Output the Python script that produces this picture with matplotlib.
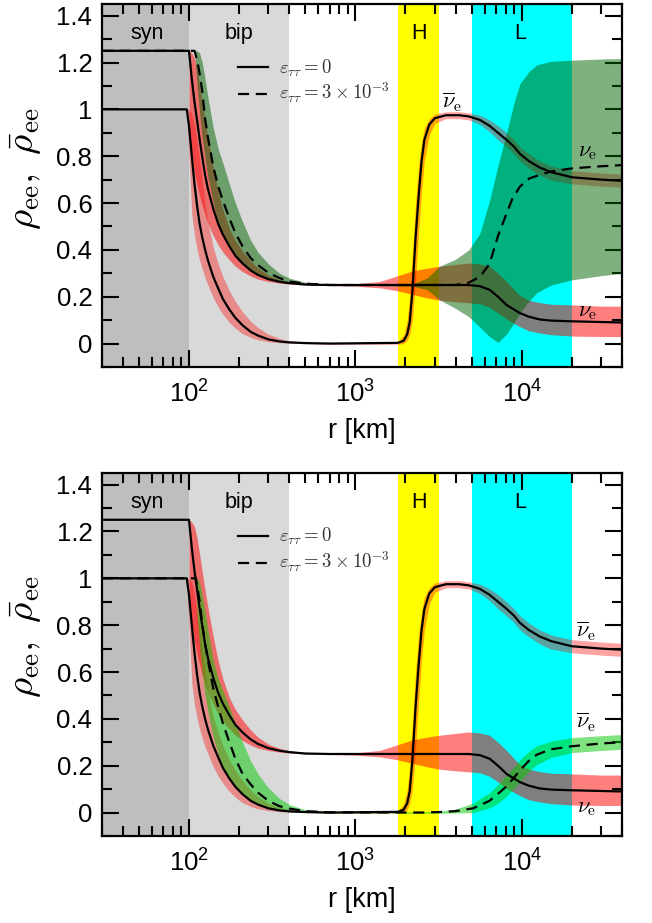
import math
import matplotlib
matplotlib.use('Agg')
import matplotlib.pyplot as plt
from matplotlib.ticker import LogLocator, MultipleLocator, FixedLocator, FuncFormatter, NullFormatter

plt.rcParams['font.family'] = ['Liberation Sans', 'DejaVu Sans']
plt.rcParams['mathtext.fontset'] = 'cm'

# shaded regions along r
region_names = ['syn', 'bip', 'H', 'L']
region_lo = [30, 100, 1800, 5000]
region_hi = [100, 400, 3200, 20000]
region_colors = ['#bebebe', '#d9d9d9', '#ffff00', '#00ffff']
region_label_r = [56, 200, 2400, 9800]

# nu_e, eps = 0 (same in both panels)
r_nue = [30, 100, 104, 108, 112, 116, 120, 125, 130, 140,
         150, 160, 175, 190, 210, 235, 260, 300, 350, 400,
         500, 700, 4800, 5600, 6400, 7200, 8100, 9000, 9750, 11000,
         12800, 15000, 20000, 30000, 40000]
nue_solid = [1.25, 1.25, 1.13, 1.03, 0.95, 0.87, 0.80, 0.72, 0.66, 0.575,
             0.51, 0.465, 0.415, 0.375, 0.342, 0.312, 0.293, 0.275, 0.264, 0.258,
             0.252, 0.25, 0.25, 0.245, 0.23, 0.2, 0.165, 0.145, 0.13, 0.115,
             0.103, 0.098, 0.095, 0.092, 0.09]

r_nue_band = [100, 104, 108, 112, 116, 120, 125, 130, 140,
              150, 160, 175, 190, 210, 235, 260, 300, 350, 400,
              500, 700, 1000, 1400, 1800, 2200, 2700, 3200, 4000, 4800, 5600,
              6400, 7200, 8100, 9000, 9750, 11000, 12800, 15000, 20000,
              30000, 40000]
nue_band_lo = [0.89, 0.805, 0.73, 0.675, 0.63, 0.59, 0.55, 0.513, 0.46,
               0.42, 0.39, 0.357, 0.33, 0.307, 0.288, 0.275, 0.265, 0.258, 0.254,
               0.251, 0.248, 0.245, 0.238, 0.225, 0.21, 0.195, 0.185, 0.178, 0.174, 0.17,
               0.155, 0.13, 0.105, 0.085, 0.072, 0.055, 0.045, 0.038, 0.032,
               0.03, 0.03]
nue_band_hi = [1.25, 1.24, 1.22, 1.17, 1.1, 1.03, 0.95, 0.875, 0.75,
               0.645, 0.57, 0.49, 0.44, 0.395, 0.352, 0.322, 0.292, 0.274, 0.264,
               0.256, 0.251, 0.255, 0.265, 0.29, 0.31, 0.322, 0.33, 0.338, 0.344, 0.34,
               0.33, 0.3, 0.265, 0.23, 0.205, 0.185, 0.175, 0.168, 0.165,
               0.16, 0.16]

# anti nu_e, eps = 0 (same in both panels)
r_nuebar = [30, 97, 100, 104, 108, 112, 116, 120, 125, 130,
            140, 150, 160, 175, 190, 210, 235, 260, 300, 350,
            400, 500, 700, 1800, 1950, 2050, 2120, 2200, 2300, 2400,
            2500, 2600, 2780, 3000, 3500, 4200, 4800, 5600, 6400, 7200,
            8100, 9000, 9750, 11000, 12800, 15000, 20000, 30000, 40000]
nuebar_solid = [1.0, 1.0, 0.93, 0.8, 0.68, 0.585, 0.51, 0.455, 0.4, 0.355,
                0.285, 0.235, 0.19, 0.145, 0.11, 0.078, 0.05, 0.034, 0.018, 0.009,
                0.005, 0.002, 0.0, 0.003, 0.012, 0.04, 0.09, 0.22, 0.45, 0.63,
                0.78, 0.87, 0.935, 0.962, 0.975, 0.975, 0.97, 0.955, 0.93, 0.9,
                0.87, 0.84, 0.81, 0.78, 0.752, 0.732, 0.71, 0.70, 0.695]

r_nuebar_band = [97, 100, 104, 108, 112, 116, 120, 125, 130, 140,
                 150, 160, 175, 190, 210, 235, 260, 300, 350, 400,
                 500, 700, 1800, 1950, 2050, 2120, 2200, 2300, 2400, 2500,
                 2600, 2780, 3000, 3500, 4200, 4800, 5600, 6400, 7200, 8100,
                 9000, 9750, 11000, 12800, 15000, 20000, 30000, 40000]
nuebar_band_lo = [1.0, 0.8, 0.55, 0.46, 0.4, 0.355, 0.32, 0.28, 0.25, 0.195,
                  0.155, 0.125, 0.09, 0.065, 0.042, 0.026, 0.016, 0.008, 0.004, 0.002,
                  0.0, -0.003, -0.003, 0.0, 0.015, 0.04, 0.1, 0.27, 0.48, 0.65,
                  0.78, 0.89, 0.94, 0.96, 0.96, 0.955, 0.935, 0.905, 0.87, 0.84,
                  0.81, 0.78, 0.75, 0.72, 0.698, 0.682, 0.672, 0.667]
nuebar_band_hi = [1.0, 1.0, 0.98, 0.93, 0.86, 0.78, 0.7, 0.6, 0.52, 0.41,
                  0.34, 0.285, 0.225, 0.18, 0.135, 0.095, 0.068, 0.04, 0.022, 0.012,
                  0.005, 0.003, 0.008, 0.035, 0.1, 0.2, 0.38, 0.6, 0.76, 0.86,
                  0.92, 0.96, 0.98, 0.99, 0.99, 0.985, 0.975, 0.955, 0.93, 0.9,
                  0.87, 0.84, 0.81, 0.78, 0.758, 0.738, 0.728, 0.723]

# top panel: nu_e, eps = 3e-3
r_top_dash = [30, 108, 112, 116, 120, 125, 130, 140, 150, 160,
              175, 190, 210, 235, 260, 300, 350, 400, 500, 700,
              4000, 4800, 5600, 6400, 7200, 8000, 8800, 9750, 11100, 12800,
              15000, 20000, 30000, 40000]
top_dash = [1.25, 1.25, 1.21, 1.15, 1.08, 0.96, 0.88, 0.755, 0.67, 0.61,
            0.535, 0.472, 0.415, 0.365, 0.335, 0.302, 0.28, 0.265, 0.256, 0.25,
            0.25, 0.26, 0.285, 0.34, 0.46, 0.545, 0.62, 0.67, 0.705, 0.72,
            0.735, 0.748, 0.757, 0.762]

r_top_green = [108, 112, 116, 120, 125, 130, 140, 150, 160, 175,
               190, 210, 235, 260, 300, 350, 400, 500, 700, 1400,
               2200, 2700, 3200, 4000, 4800, 5600, 6400, 7200, 8100, 9000,
               9750, 11000, 12300, 15000, 20000, 30000, 40000]
top_green_lo = [1.25, 1.1, 0.98, 0.88, 0.79, 0.71, 0.60, 0.51, 0.465, 0.415,
                0.375, 0.342, 0.312, 0.293, 0.275, 0.264, 0.258, 0.252, 0.248, 0.248,
                0.245, 0.23, 0.187, 0.15, 0.115, 0.07, 0.03, 0.005, 0.04, 0.09,
                0.13, 0.18, 0.217, 0.25, 0.272, 0.29, 0.30]
top_green_hi = [1.25, 1.25, 1.24, 1.2, 1.13, 1.05, 0.92, 0.83, 0.77, 0.68,
                0.6, 0.52, 0.44, 0.39, 0.34, 0.30, 0.28, 0.262, 0.252, 0.252,
                0.255, 0.28, 0.33, 0.36, 0.40, 0.47, 0.61, 0.76, 0.9, 1.03,
                1.11, 1.16, 1.19, 1.205, 1.21, 1.215, 1.217]

# bottom panel: anti nu_e, eps = 3e-3
r_bot_dash = [30, 110, 112, 116, 120, 125, 130, 140, 150, 160,
              175, 190, 210, 235, 260, 300, 350, 400, 500, 700,
              2500, 3200, 4000, 5100, 6400, 7200, 8100, 9000, 9750, 11000,
              12300, 15000, 20000, 30000, 40000]
bot_dash = [1.0, 1.0, 0.97, 0.9, 0.81, 0.72, 0.65, 0.53, 0.45, 0.38,
            0.3, 0.23, 0.165, 0.12, 0.085, 0.05, 0.027, 0.017, 0.006, 0.001,
            0.0, 0.002, 0.006, 0.018, 0.05, 0.08, 0.112, 0.15, 0.18, 0.22,
            0.247, 0.27, 0.283, 0.295, 0.30]

r_bot_green = [110, 112, 116, 120, 125, 130, 140, 150, 160, 175,
               190, 210, 235, 260, 300, 350, 400, 500, 700, 2500,
               3200, 4000, 5100, 6400, 7200, 8100, 9000, 9750, 11000, 12300,
               15000, 20000, 30000, 40000]
bot_green_lo = [1.0, 0.85, 0.7, 0.6, 0.5, 0.43, 0.32, 0.25, 0.195, 0.145,
                0.11, 0.078, 0.05, 0.034, 0.018, 0.009, 0.005, 0.002, -0.003, -0.003,
                -0.003, -0.002, 0.0, 0.02, 0.04, 0.07, 0.105, 0.134, 0.175, 0.205,
                0.235, 0.256, 0.265, 0.27]
bot_green_hi = [1.0, 1.0, 0.98, 0.93, 0.86, 0.78, 0.65, 0.57, 0.52, 0.45,
                0.38, 0.3, 0.22, 0.165, 0.105, 0.06, 0.035, 0.012, 0.003, 0.003,
                0.006, 0.015, 0.04, 0.085, 0.12, 0.16, 0.195, 0.226, 0.26, 0.285,
                0.305, 0.32, 0.328, 0.333]

# curve labels (r, value, text)
top_labels = [(3840, 1.03, r'$\overline{\nu}_{\rm e}$'),
              (25000, 0.818, r'$\nu_{\rm e}$'),
              (25000, 0.137, r'$\nu_{\rm e}$')]
bot_labels = [(24300, 0.774, r'$\overline{\nu}_{\rm e}$'),
              (24500, 0.383, r'$\overline{\nu}_{\rm e}$'),
              (24500, 0.023, r'$\nu_{\rm e}$')]

yticks = [0, 0.2, 0.4, 0.6, 0.8, 1.0, 1.2, 1.4]
ytick_labels = ['0', '0.2', '0.4', '0.6', '0.8', '1', '1.2', '1.4']


def decade_label(v, pos):
    return r'$\mathregular{10^{%d}}$' % round(math.log10(v))


def draw_panel(ax, r_dash, dash, r_green, green_lo, green_hi, green_color, labels):
    for lo, hi, c, name, xr in zip(region_lo, region_hi, region_colors,
                                   region_names, region_label_r):
        ax.axvspan(lo, hi, color=c, lw=0, zorder=0)
        ax.text(xr, 1.323, name, ha='center', va='center', fontsize=15.5, zorder=6)

    # uncertainty bands
    ax.fill_between(r_nuebar_band, nuebar_band_lo, nuebar_band_hi,
                    color='red', alpha=0.36, lw=0, zorder=1)
    ax.fill_between(r_nue_band, nue_band_lo, nue_band_hi,
                    color='red', alpha=0.5, lw=0, zorder=1)
    ax.fill_between(r_green, green_lo, green_hi,
                    color=green_color, alpha=0.5, lw=0, zorder=2)

    # mean curves
    ax.plot(r_nue, nue_solid, color='k', lw=1.6, zorder=4,
            label=r'$\varepsilon_{\tau\tau}=0$')
    ax.plot(r_nuebar, nuebar_solid, color='k', lw=1.6, zorder=4)
    ax.plot(r_dash, dash, color='k', lw=1.6, ls=(0, (5, 3)), zorder=4,
            label=r'$\varepsilon_{\tau\tau}=3\times10^{-3}$')

    for xr, yv, s in labels:
        ax.text(xr, yv, s, ha='center', va='center', fontsize=16, zorder=6)

    leg = ax.legend(loc='upper left', bbox_to_anchor=(0.262, 0.853), frameon=False,
                    fontsize=13.5, handlelength=1.6, handletextpad=0.6,
                    labelspacing=0.15, borderpad=0, borderaxespad=0)
    for t in leg.get_texts():
        t.set_color('#333333')

    ax.set_xscale('log')
    ax.set_xlim(30, 40000)
    ax.set_ylim(-0.1, 1.45)
    ax.xaxis.set_major_locator(FixedLocator([100, 1000, 10000]))
    ax.xaxis.set_minor_locator(LogLocator(base=10, subs=range(2, 10), numticks=20))
    ax.xaxis.set_major_formatter(FuncFormatter(decade_label))
    ax.xaxis.set_minor_formatter(NullFormatter())
    ax.set_yticks(yticks)
    ax.set_yticklabels(ytick_labels)
    ax.yaxis.set_minor_locator(MultipleLocator(0.1))

    ax.tick_params(which='both', direction='in', top=True, right=True, width=1.5,
                   labelsize=18.5, color='k')
    ax.tick_params(which='major', length=12)
    ax.tick_params(which='minor', length=7)
    ax.tick_params(axis='x', pad=10)
    ax.tick_params(axis='y', pad=7)
    for sp in ax.spines.values():
        sp.set_linewidth(1.6)
        sp.set_zorder(7)

    ax.set_xlabel('r [km]', fontsize=19.5)
    ax.xaxis.set_label_coords(0.5, -0.14)
    ax.set_ylabel(r'$\rho_{\rm ee},\ \bar{\rho}_{\rm ee}$', fontsize=28)
    ax.yaxis.set_label_coords(-0.112, 0.548)


fig = plt.figure(figsize=(6.52, 9.23), dpi=100)
ax_top = fig.add_axes([0.1564, 0.6024, 0.7975, 0.3933])
ax_bot = fig.add_axes([0.1564, 0.0943, 0.7975, 0.3933])

draw_panel(ax_top, r_top_dash, top_dash, r_top_green, top_green_lo, top_green_hi,
           '#006400', top_labels)
draw_panel(ax_bot, r_bot_dash, bot_dash, r_bot_green, bot_green_lo, bot_green_hi,
           '#00c800', bot_labels)

fig.savefig('out.png', dpi=100)
